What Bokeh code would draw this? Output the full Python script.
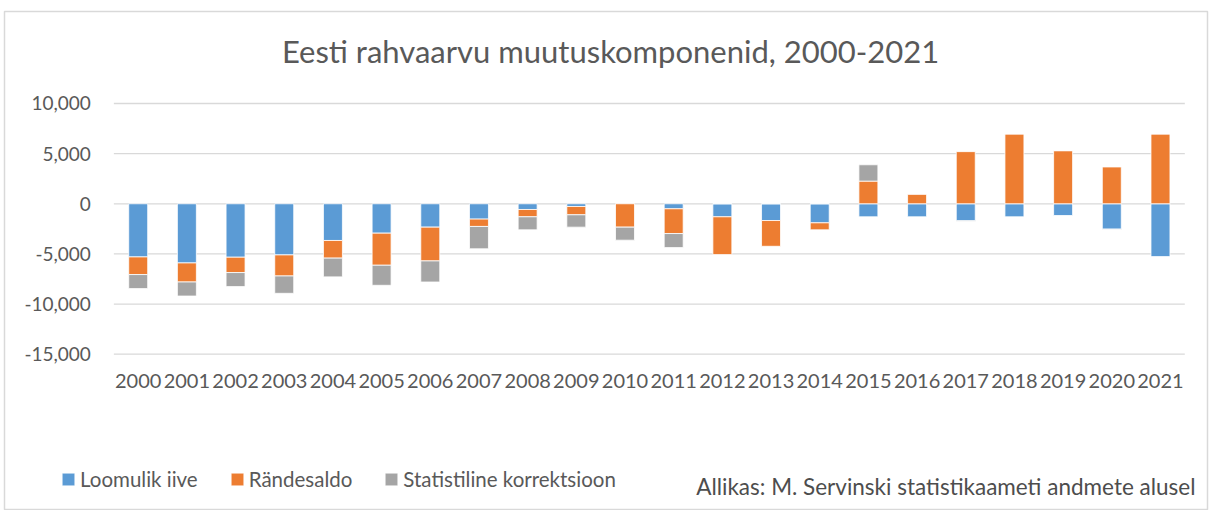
import numpy as np
from bokeh.plotting import figure
from bokeh.models import (ColumnDataSource, Range1d, FixedTicker, LinearAxis,
                          NumeralTickFormatter, BasicTickFormatter, Legend, LegendItem, Label)
from bokeh.embed import file_html
from bokeh.resources import INLINE

years = list(range(2000, 2022))
natural = [-5300, -5900, -5330, -5100, -3660, -2930, -2330, -1530, -570, -270, 35,
           -500, -1300, -1670, -1900, -1300, -1300, -1700, -1300, -1170, -2530, -5270]
migration = [-1760, -1900, -1530, -2100, -1760, -3200, -3370, -730, -730, -830, -2330,
             -2470, -3770, -2570, -700, 2260, 970, 5200, 6970, 5300, 3670, 6970]
correction = [-1400, -1400, -1400, -1730, -1870, -2000, -2100, -2230, -1300, -1230, -1300,
              -1400, 0, 0, 0, 1630, 0, -50, 0, 0, -50, 0]
y_ticks = [-15000, -10000, -5000, 0, 5000, 10000]
series_names = ["Loomulik iive", "Rändesaldo", "Statistiline korrektsioon"]
colors = ["#5b9bd5", "#ed7d31", "#a5a5a5"]
title_text = "Eesti rahvaarvu muutuskomponenid, 2000-2021"
source_text = "Allikas: M. Servinski statistikaameti andmete alusel"

FONT = "Lato"
GRAY = "#595959"
W, H = 1213, 510
# frame covers the whole chart box; axes are placed inside it
p = figure(width=W, height=H, x_range=Range1d(1997.2535, 2021.966),
           y_range=Range1d(-30587, 19174), x_axis_type=None, y_axis_type=None,
           output_backend="svg", toolbar_location=None,
           min_border_left=4, min_border_right=6, min_border_top=11, min_border_bottom=0)
p.outline_line_color = "#d9d9d9"
p.outline_line_width = 1.5
p.xgrid.visible = False
p.ygrid.visible = False

# horizontal gridlines over the category span
n = len(y_ticks)
p.segment(x0=[years[0] - 0.5] * n, x1=[years[-1] + 0.5] * n, y0=y_ticks, y1=y_ticks,
          line_color="#d9d9d9", line_width=1.3)

pos = np.zeros(len(years))
neg = np.zeros(len(years))
items = []
for name, vals, col in zip(series_names, [natural, migration, correction], colors):
    v = np.array(vals, dtype=float)
    bottom = np.where(v >= 0, pos, neg)
    top = bottom + v
    pos = np.where(v >= 0, top, pos)
    neg = np.where(v < 0, top, neg)
    src = ColumnDataSource(dict(x=years, top=top, bottom=bottom))
    r = p.vbar(x="x", top="top", bottom="bottom", width=0.39, source=src,
               fill_color=col, line_color="white", line_width=0.8)
    items.append(LegendItem(label=name, renderers=[r]))

yaxis = LinearAxis(fixed_location=years[0] - 0.5, ticker=FixedTicker(ticks=y_ticks),
                   formatter=NumeralTickFormatter(format="0,0"), major_label_standoff=17)
xaxis = LinearAxis(fixed_location=y_ticks[0], ticker=FixedTicker(ticks=years),
                   formatter=BasicTickFormatter(use_scientific=False), major_label_standoff=14)
for ax, fs in ((xaxis, "20px"), (yaxis, "19px")):
    ax.axis_line_color = None
    ax.major_tick_line_color = None
    ax.minor_tick_line_color = None
    ax.major_label_text_font = FONT
    ax.major_label_text_font_size = fs
    ax.major_label_text_color = GRAY
p.add_layout(yaxis, "left")
p.add_layout(xaxis, "below")

legend = Legend(items=items, orientation="horizontal", location=(56, 19),
                border_line_color=None, background_fill_alpha=0,
                label_text_font=FONT, label_text_font_size="20.5px", label_text_color=GRAY,
                glyph_width=16, glyph_height=16, label_standoff=4, spacing=31, padding=0, margin=0)
p.add_layout(legend)

p.add_layout(Label(x=606, y=460, x_units="screen", y_units="screen", text=title_text,
                   text_align="center", text_baseline="middle", text_font=FONT,
                   text_font_size="31px", text_color=GRAY))
p.add_layout(Label(x=1191, y=24, x_units="screen", y_units="screen", text=source_text,
                   text_align="right", text_baseline="middle", text_font=FONT,
                   text_font_size="22.5px", text_color="#4d4d4d"))

open("out.html", "w").write(file_html(p, INLINE))
